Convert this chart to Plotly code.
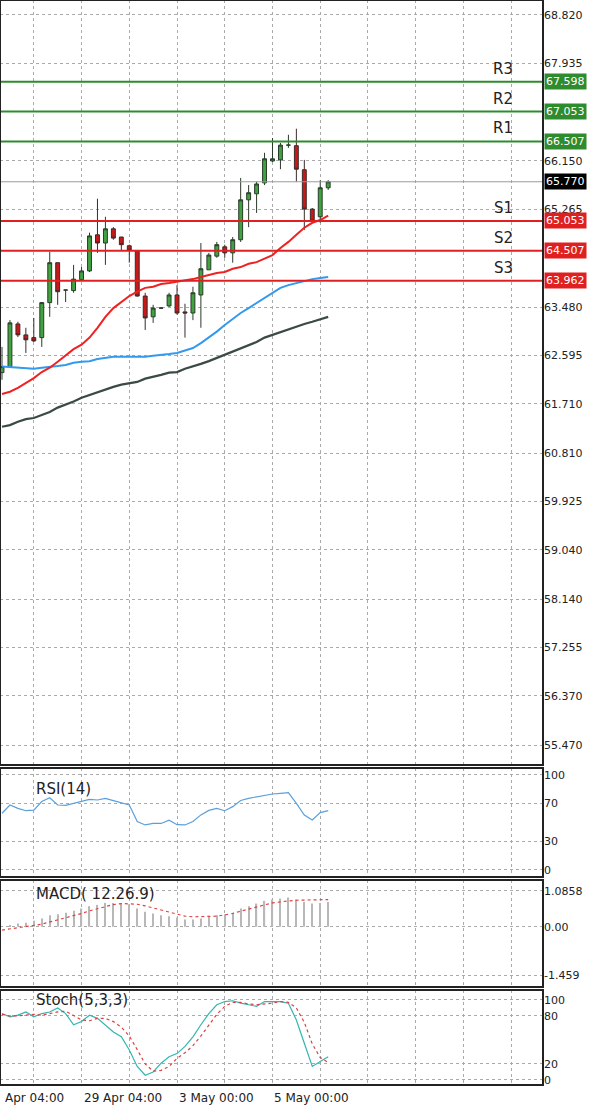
import plotly.graph_objects as go

# candles (one per 4h bar)
opens = [62.28, 62.39, 63.17, 62.97, 62.92, 62.92, 63.56, 64.29, 63.79, 63.78, 63.98, 64.14, 64.80, 64.65,
         64.91, 64.76, 64.60, 64.51, 63.68, 63.30, 63.46, 63.50, 63.70, 63.39, 63.37, 63.70, 64.16, 64.41,
         64.58, 64.47, 64.71, 65.44, 65.55, 65.75, 66.15, 66.17, 66.44, 66.43, 65.99, 65.27, 65.13, 65.66]
highs = [62.75, 63.24, 63.21, 63.10, 63.28, 63.57, 64.49, 64.29, 63.79, 64.25, 64.21, 64.84, 65.46, 65.13,
         64.94, 64.76, 64.62, 64.51, 63.74, 63.52, 63.48, 63.74, 63.88, 63.54, 63.85, 64.65, 64.47, 64.67,
         64.62, 64.76, 65.84, 65.71, 65.77, 66.30, 66.57, 66.48, 66.63, 66.74, 66.17, 65.29, 65.80, 65.80]
lows = [62.15, 62.37, 62.93, 62.64, 62.84, 62.75, 63.30, 63.52, 63.57, 63.74, 63.98, 64.12, 64.47, 64.25,
        64.71, 64.52, 64.29, 63.67, 63.06, 63.19, 63.45, 63.48, 63.34, 62.92, 63.24, 63.10, 64.16, 64.38,
        64.38, 64.29, 64.67, 64.94, 65.20, 65.71, 66.13, 66.00, 66.39, 65.77, 64.89, 65.04, 65.02, 65.62]
closes = [62.39, 63.19, 62.97, 62.88, 62.86, 63.56, 64.29, 63.76, 63.79, 63.99, 64.14, 64.78, 64.65, 64.91,
          64.74, 64.62, 64.52, 63.68, 63.28, 63.46, 63.46, 63.70, 63.37, 63.37, 63.74, 64.18, 64.43, 64.62,
          64.47, 64.71, 65.44, 65.57, 65.73, 66.19, 66.19, 66.44, 66.44, 66.00, 65.27, 65.05, 65.66, 65.77]

ma_red = [61.89, 61.93, 62.00, 62.09, 62.18, 62.29, 62.37, 62.48, 62.60, 62.71, 62.79, 62.92, 63.10, 63.30,
          63.46, 63.57, 63.68, 63.76, 63.83, 63.85, 63.90, 63.92, 63.94, 63.96, 63.99, 64.03, 64.07, 64.10,
          64.12, 64.18, 64.21, 64.27, 64.30, 64.36, 64.43, 64.56, 64.67, 64.80, 64.93, 65.02, 65.07, 65.15]
ma_blue = [62.39, 62.38, 62.37, 62.35, 62.35, 62.37, 62.38, 62.40, 62.42, 62.46, 62.48, 62.49, 62.53, 62.55,
           62.57, 62.57, 62.57, 62.57, 62.57, 62.59, 62.60, 62.62, 62.64, 62.68, 62.73, 62.82, 62.92, 63.03,
           63.15, 63.26, 63.37, 63.46, 63.55, 63.65, 63.74, 63.83, 63.88, 63.92, 63.96, 63.99, 64.01, 64.03]
ma_black = [61.29, 61.32, 61.38, 61.43, 61.45, 61.51, 61.56, 61.64, 61.69, 61.75, 61.82, 61.87, 61.93, 61.98,
            62.02, 62.06, 62.09, 62.11, 62.17, 62.20, 62.24, 62.28, 62.29, 62.35, 62.39, 62.44, 62.49, 62.55,
            62.60, 62.66, 62.73, 62.79, 62.84, 62.92, 62.97, 63.03, 63.08, 63.12, 63.17, 63.21, 63.26, 63.30]

rsi = [59.7, 68.4, 64.9, 62.4, 63.0, 72.0, 76.0, 68.4, 68.0, 70.0, 71.9, 74.4, 73.7, 75.4, 73.0, 71.0, 68.4,
       51.0, 47.4, 49.0, 49.0, 52.5, 47.7, 47.4, 51.0, 58.0, 62.7, 64.9, 62.4, 66.7, 73.1, 75.4, 77.2, 78.9,
       80.0, 80.7, 81.4, 70.2, 57.9, 52.6, 60.4, 62.4]

macd = [0.00, 0.05, 0.10, 0.12, 0.18, 0.25, 0.35, 0.38, 0.42, 0.48, 0.55, 0.62, 0.66, 0.72, 0.72, 0.70, 0.68,
        0.55, 0.45, 0.40, 0.35, 0.32, 0.28, 0.22, 0.22, 0.25, 0.30, 0.35, 0.38, 0.42, 0.55, 0.62, 0.70, 0.78,
        0.82, 0.85, 0.88, 0.82, 0.75, 0.70, 0.72, 0.75]
macd_signal = [-0.10, -0.07, -0.03, 0.00, 0.04, 0.08, 0.14, 0.20, 0.26, 0.33, 0.40, 0.48, 0.55, 0.62, 0.67,
               0.70, 0.70, 0.68, 0.63, 0.57, 0.50, 0.44, 0.38, 0.32, 0.30, 0.30, 0.30, 0.32, 0.36, 0.40, 0.47,
               0.54, 0.60, 0.66, 0.72, 0.76, 0.78, 0.80, 0.80, 0.80, 0.80, 0.82]

stoch_k = [83, 79, 81, 85, 79, 83, 85, 90, 83, 69, 73, 81, 77, 69, 60, 54, 37.5, 17, 6, 10, 21, 29, 33, 42,
           54, 69, 83, 94, 98, 99, 96, 94, 92, 98, 98, 98, 96, 75, 46, 17, 23, 29]
stoch_d = [82, 80, 80, 81, 82, 81, 83, 85, 86, 80, 75, 74, 77, 77, 73, 66, 55, 38, 20, 11, 12, 17, 27, 34,
           43, 55, 69, 82, 92, 97, 97, 95, 94, 95, 96, 98, 97, 90, 72, 45, 28, 22]

levels = ['R3', 'R2', 'R1', 'S1', 'S2', 'S3']
level_prices = [67.598, 67.053, 66.507, 65.053, 64.507, 63.962]
last_price = 65.770

price_ticks = [68.820, 67.935, 66.150, 65.265, 63.480, 62.595, 61.710, 60.810,
               59.925, 59.040, 58.140, 57.255, 56.370, 55.470]
date_labels = ['Apr 04:00', '29 Apr 04:00', '3 May 00:00', '5 May 00:00']
date_pos = [0.1, 10, 22, 34]

x = list(range(len(closes)))
GREEN = '#2e8b2e'
RED = '#e02020'

fig = go.Figure()
fig.add_trace(go.Candlestick(x=x, open=opens, high=highs, low=lows, close=closes, yaxis='y',
                             increasing=dict(fillcolor='#3fa33f', line=dict(color='#2b3b2b', width=1)),
                             decreasing=dict(fillcolor='#c81818', line=dict(color='#3b2b2b', width=1)),
                             whiskerwidth=0, showlegend=False))
fig.add_trace(go.Scatter(x=x, y=ma_black, yaxis='y', mode='lines', line=dict(color='#3a4a44', width=2.2)))
fig.add_trace(go.Scatter(x=x, y=ma_blue, yaxis='y', mode='lines', line=dict(color='#3399ee', width=2)))
fig.add_trace(go.Scatter(x=x, y=ma_red, yaxis='y', mode='lines', line=dict(color='#ee2222', width=2)))

fig.add_trace(go.Scatter(x=x, y=rsi, yaxis='y2', mode='lines', line=dict(color='#5aa0dd', width=1.2)))
fig.add_trace(go.Bar(x=x, y=macd, yaxis='y3', width=0.15, marker=dict(color='#b8b8b8', line_width=0)))
fig.add_trace(go.Scatter(x=x, y=macd_signal, yaxis='y3', mode='lines',
                         line=dict(color='#e04040', width=1.2, dash='dot')))
fig.add_trace(go.Scatter(x=x, y=stoch_k, yaxis='y4', mode='lines', line=dict(color='#33b5b0', width=1.2)))
fig.add_trace(go.Scatter(x=x, y=stoch_d, yaxis='y4', mode='lines',
                         line=dict(color='#e04040', width=1.2, dash='dot')))

# support / resistance lines with price boxes
for name, p in zip(levels, level_prices):
    col = GREEN if name.startswith('R') else RED
    fig.add_shape(type='line', xref='paper', x0=0, x1=1, yref='y', y0=p, y1=p,
                  line=dict(color=col, width=2))
    fig.add_annotation(x=63, y=p, xref='x', yref='y', text=name, showarrow=False,
                       yanchor='bottom', yshift=2, font=dict(size=15, color='#222'))
    fig.add_annotation(x=1, y=p, xref='paper', yref='y', text=f'{p:.3f}', showarrow=False,
                       xanchor='left', xshift=1, bgcolor=col, font=dict(size=11, color='white'),
                       borderpad=1)
fig.add_shape(type='line', xref='paper', x0=0, x1=1, yref='y', y0=last_price, y1=last_price,
              line=dict(color='#9a9a9a', width=1))
fig.add_annotation(x=1, y=last_price, xref='paper', yref='y', text=f'{last_price:.3f}', showarrow=False,
                   xanchor='left', xshift=1, bgcolor='black', font=dict(size=11, color='white'), borderpad=1)

for txt, ypos, yax in [('RSI(14)', 85, 'y2'), ('MACD( 12.26.9)', 1.0, 'y3'), ('Stoch(5,3,3)', 100, 'y4')]:
    fig.add_annotation(x=4, y=ypos, xref='x', yref=yax, text=txt, showarrow=False,
                       xanchor='left', font=dict(size=15, color='#222'))

for lab, pos in zip(date_labels, date_pos):
    fig.add_annotation(x=pos, y=0, xref='x', yref='paper', text=lab, showarrow=False,
                       xanchor='left', yanchor='top', yshift=-4, font=dict(size=12, color='#222'))

domains = {'y': [0.2949, 1], 'y2': [0.1917, 0.2922], 'y3': [0.0903, 0.1889], 'y4': [0, 0.0876]}
for d in domains.values():
    fig.add_shape(type='rect', xref='paper', yref='paper', x0=0, x1=1, y0=d[0], y1=d[1],
                  line=dict(color='#222', width=2))

grid = dict(showgrid=True, gridcolor='#aaaaaa', griddash='dot', gridwidth=1, zeroline=False)
yfont = dict(size=11, color='#222')
fig.update_layout(
    width=600, height=1112, margin=dict(l=0, r=57, t=0, b=27, autoexpand=False),
    paper_bgcolor='white', plot_bgcolor='white', showlegend=False,
    font=dict(family='DejaVu Sans'),
    xaxis=dict(range=[-0.25, 68.0], tickvals=[4, 10, 16, 22, 28, 34, 40, 46, 52, 58, 64],
               showticklabels=False, rangeslider=dict(visible=False), anchor='y4', **grid),
    yaxis=dict(domain=domains['y'], range=[55.104, 69.094], side='right', tickvals=price_ticks,
               ticktext=[f'{v:.3f}' for v in price_ticks], tickfont=yfont, **grid),
    yaxis2=dict(domain=domains['y2'], range=[-7.4, 107.4], side='right', tickvals=[0, 30, 70, 100],
                tickfont=yfont, **grid),
    yaxis3=dict(domain=domains['y3'], range=[-1.82, 1.41], side='right', tickvals=[1.0858, 0, -1.459],
                ticktext=['1.0858', '0.00', '-1.459'], tickfont=yfont, **grid),
    yaxis4=dict(domain=domains['y4'], range=[-6.25, 112.5], side='right', tickvals=[0, 20, 80, 100],
                tickfont=yfont, **grid),
)

fig.write_html("out.html", config={'displayModeBar': False},
               post_script="document.body.style.margin='0';")
